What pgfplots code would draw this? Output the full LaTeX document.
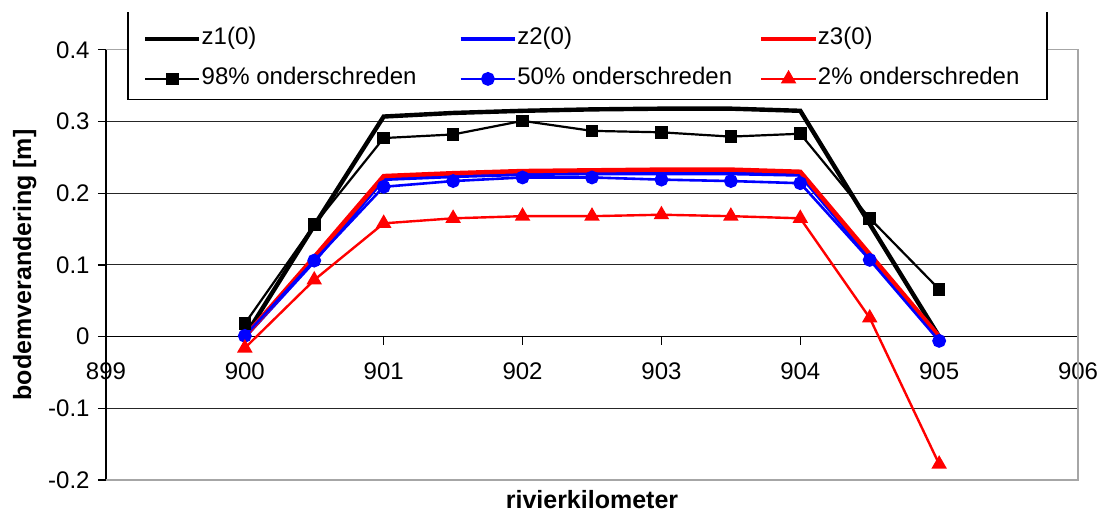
\documentclass[border=0pt]{standalone}
\usepackage{fontspec}
\setmainfont{Liberation Sans}
\usepackage{pgfplots}
\pgfplotsset{compat=1.18}

\begin{document}
\fontsize{12}{14}\selectfont
\begin{tikzpicture}
\begin{axis}[
  width=486pt, height=215pt, scale only axis,
  xmin=899, xmax=906, ymin=-0.2, ymax=0.4,
  axis x line=middle, axis y line=left,
  axis line style={-, black, line width=0.6pt},
  hide obscured x ticks=false, hide obscured y ticks=false,
  xtick={899,900,901,902,903,904,905,906},
  xticklabels={899,900,901,902,903,904,905,906},
  ytick={-0.2,-0.1,0,0.1,0.2,0.3,0.4},
  yticklabels={-0.2,-0.1,0,0.1,0.2,0.3,0.4},
  tick align=outside, major tick length=4pt,
  tick style={black, line width=0.6pt},
  every tick label/.append style={font=\fontsize{12}{14}\selectfont},
  xticklabel style={yshift=-5pt},
  ymajorgrids, grid style={black!85, line width=0.5pt},
  xlabel={rivierkilometer}, ylabel={bodemverandering [m]},
  every axis x label/.style={at={(axis description cs:0.5,-0.0465)}, anchor=center,
    font=\bfseries\fontsize{12.5}{15}\selectfont},
  every axis y label/.style={at={(axis description cs:-0.0835,0.5)}, rotate=90, anchor=center,
    font=\bfseries\fontsize{12.5}{15}\selectfont},
  clip=false,
  legend columns=3,
  legend cell align=left,
  legend style={at={(rel axis cs:0.038,0.979)}, anchor=west, draw=none, fill=none,
    inner sep=0pt, outer sep=0pt, row sep=8pt,
    nodes={inner sep=0pt, text height=9pt, text depth=3pt, font=\fontsize{12}{14}\selectfont},
    /tikz/column 2/.style={column sep=21pt},
    /tikz/column 4/.style={column sep=13.5pt}},
  legend image code/.code={\draw[mark repeat=2,mark phase=2] plot coordinates {(0pt,0pt) (13.6pt,0pt) (27.2pt,0pt)};},
]
% plot frame (top, right, bottom) in grey
\draw[gray!70, line width=0.6pt] (rel axis cs:0,1) -- (rel axis cs:1,1) -- (rel axis cs:1,0) -- (rel axis cs:0,0);

% computed bed level change
\addplot[black, line width=2.2pt] coordinates {
  (900,0) (900.5,0.155) (901,0.307) (901.5,0.312) (902,0.315) (902.5,0.317)
  (903,0.318) (903.5,0.318) (904,0.315) (904.5,0.157) (905,0)};
\addlegendentry{z1(0)}
\addplot[blue, line width=2.2pt] coordinates {
  (900,0) (900.5,0.106) (901,0.220) (901.5,0.224) (902,0.227) (902.5,0.228)
  (903,0.228) (903.5,0.228) (904,0.226) (904.5,0.111) (905,0)};
\addlegendentry{z2(0)}
\addplot[red, line width=2.2pt] coordinates {
  (900,0) (900.5,0.111) (901,0.224) (901.5,0.228) (902,0.231) (902.5,0.232)
  (903,0.233) (903.5,0.233) (904,0.230) (904.5,0.115) (905,0)};
\addlegendentry{z3(0)}

% exceedance levels
\addplot[black, line width=1.1pt, mark=square*, mark size=2.6pt, mark options={solid}] coordinates {
  (900,0.018) (900.5,0.156) (901,0.277) (901.5,0.282) (902,0.301) (902.5,0.287)
  (903,0.285) (903.5,0.279) (904,0.283) (904.5,0.165) (905,0.066)};
\addlegendentry{98\% onderschreden}
\addplot[blue, line width=1.3pt, mark=*, mark size=2.8pt, mark options={solid}] coordinates {
  (900,0.001) (900.5,0.106) (901,0.209) (901.5,0.217) (902,0.222) (902.5,0.222)
  (903,0.219) (903.5,0.217) (904,0.214) (904.5,0.107) (905,-0.006)};
\addlegendentry{50\% onderschreden}
\addplot[red, line width=1.2pt, mark=triangle*, mark size=3.3pt, mark options={solid}] coordinates {
  (900,-0.016) (900.5,0.079) (901,0.158) (901.5,0.165) (902,0.168) (902.5,0.168)
  (903,0.170) (903.5,0.168) (904,0.165) (904.5,0.026) (905,-0.178)};
\addlegendentry{2\% onderschreden}

% legend box
\fill[white] (rel axis cs:0.0226,0.884) rectangle (rel axis cs:0.968,1.088);
\draw[black, line width=0.6pt] (rel axis cs:0.0226,1.088) -- (rel axis cs:0.0226,0.884)
  -- (rel axis cs:0.968,0.884) -- (rel axis cs:0.968,1.088);

\coordinate (bbSW) at (rel axis cs:-0.109,-0.0767);
\coordinate (bbNE) at (rel axis cs:1.0226,1.116);
\end{axis}
\pgfresetboundingbox
\path[use as bounding box] (bbSW) rectangle (bbNE);
\end{tikzpicture}
\end{document}
